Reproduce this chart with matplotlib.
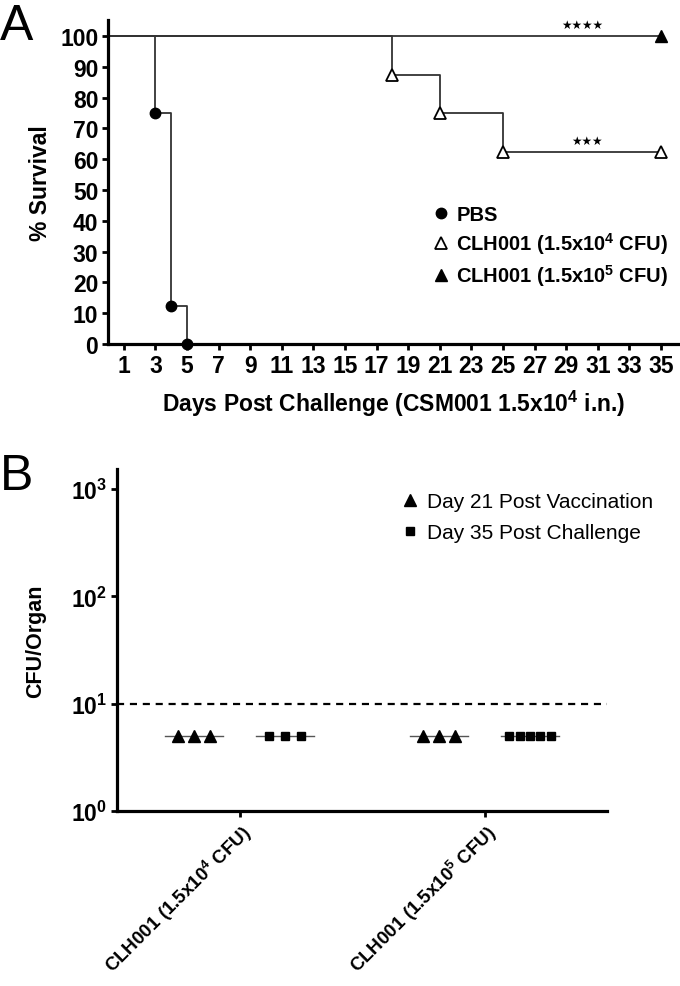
import numpy as np
import matplotlib
matplotlib.use('Agg')
import matplotlib.pyplot as plt
from matplotlib.ticker import FixedLocator, FixedFormatter, NullLocator

plt.rcParams['font.family'] = ['Liberation Sans', 'DejaVu Sans']
plt.rcParams['mathtext.fontset'] = 'custom'
plt.rcParams['mathtext.rm'] = 'Liberation Sans'
plt.rcParams['mathtext.bf'] = 'Liberation Sans:bold'
plt.rcParams['mathtext.it'] = 'Liberation Sans:italic'

# panel A - survival
pbs_days = [0, 3, 4, 5]
pbs_surv = [100, 75, 12.5, 0]
low_days = [0, 18, 21, 25, 35]
low_surv = [100, 87.5, 75, 62.5, 62.5]
high_days = [0, 35]
high_surv = [100, 100]
xticks_a = list(range(1, 36, 2))
yticks_a = list(range(0, 101, 10))

# panel B - CFU/organ
groups = [r'CLH001 (1.5x10$^{\mathbf{4}}$ CFU)', r'CLH001 (1.5x10$^{\mathbf{5}}$ CFU)']
d21_vals = [[5, 5, 5], [5, 5, 5]]
d35_vals = [[5, 5, 5], [5, 5, 5, 5, 5]]
detect_limit = 10
yticks_b = [1, 10, 100, 1000]
yticklabels_b = [r'$\mathbf{10^{0}}$', r'$\mathbf{10^{1}}$', r'$\mathbf{10^{2}}$', r'$\mathbf{10^{3}}$']

fig = plt.figure(figsize=(6.8, 9.87), dpi=100)

line_col = '#333333'
spine_w = 2.3

# ---------- A ----------
ax = fig.add_axes([108/680, 1-345/987, 1-108/680, (345-21)/987])
ax.step(pbs_days, pbs_surv, where='post', color=line_col, lw=1.3)
ax.plot(pbs_days[1:], pbs_surv[1:], 'o', color='black', ms=7.5, ls='none', label='PBS', clip_on=False)
ax.step(low_days, low_surv, where='post', color=line_col, lw=1.3)
ax.plot(low_days[1:], low_surv[1:], '^', mfc='white', mec='black', mew=1.3, ms=8.5, ls='none', clip_on=False,
        label=r'CLH001 (1.5x10$^{\mathbf{4}}$ CFU)')
ax.step(high_days, high_surv, where='post', color=line_col, lw=1.3)
ax.plot(high_days[1:], high_surv[1:], '^', color='black', ms=8.5, ls='none', clip_on=False,
        label=r'CLH001 (1.5x10$^{\mathbf{5}}$ CFU)')

ax.set_xlim(0, 36.2)
ax.set_ylim(0, 105.2)
ax.xaxis.set_major_locator(FixedLocator(xticks_a))
ax.yaxis.set_major_locator(FixedLocator(yticks_a))
for s in ['top', 'right']:
    ax.spines[s].set_visible(False)
for s in ['left', 'bottom']:
    ax.spines[s].set_linewidth(spine_w)
ax.tick_params(width=2, length=4, labelsize=16.5, pad=3)
for lab in ax.get_xticklabels() + ax.get_yticklabels():
    lab.set_fontweight('bold')
ax.set_ylabel('% Survival', fontsize=16.5, fontweight='bold', labelpad=6)
ax.set_xlabel(r'Days Post Challenge (CSM001 1.5x10$^{\mathbf{4}}$ i.n.)', fontsize=16.5, fontweight='bold', labelpad=8)

ax.text(30.0, 101.5, '★★★★', fontsize=8.5, ha='center', va='bottom', family='DejaVu Sans')
ax.text(30.3, 64.0, '★★★', fontsize=8.5, ha='center', va='bottom', family='DejaVu Sans')

leg = ax.legend(loc='upper left', bbox_to_anchor=(0.54, 0.485), frameon=False,
                handlelength=0.6, handletextpad=0.45, labelspacing=0.3,
                prop={'weight': 'bold', 'size': 14.5})

fig.text(0.0, 1-40/987, 'A', fontsize=36, ha='left', va='baseline')

# ---------- B ----------
bx = fig.add_axes([117/680, 1-812/987, (607-117)/680, (812-470)/987])
bx.set_yscale('log')
bx.set_ylim(1, 10**3.186)
bx.set_xlim(-0.5, 1.5)

off = 0.186
for i in range(len(groups)):
    for vals, mk, sz, sign in [(d21_vals[i], '^', 9, -1), (d35_vals[i], 's', 5.8, 1)]:
        n = len(vals)
        step = min(0.067, 0.17 / (n - 1))
        xs = i + sign * off + (np.arange(n) - (n - 1) / 2) * step
        bx.plot([i + sign * off - 0.12, i + sign * off + 0.12], [np.median(vals)] * 2,
                color='#555555', lw=1.0, zorder=2)
        bx.plot(xs, vals, mk, color='black', ms=sz, ls='none', zorder=3)

bx.axhline(detect_limit, color='black', lw=1.6, ls=(0, (3.2, 2.6)), zorder=1)

# legend proxies
bx.plot([], [], '^', color='black', ms=8, ls='none', label='Day 21 Post Vaccination')
bx.plot([], [], 's', color='black', ms=6, ls='none', label='Day 35 Post Challenge')
bx.legend(loc='upper left', bbox_to_anchor=(0.545, 0.988), frameon=False,
          handlelength=0.7, handletextpad=0.45, labelspacing=0.6, prop={'size': 15})

bx.yaxis.set_major_locator(FixedLocator(yticks_b))
bx.yaxis.set_major_formatter(FixedFormatter(yticklabels_b))
bx.yaxis.set_minor_locator(NullLocator())
bx.xaxis.set_major_locator(FixedLocator([0, 1]))
bx.set_xticklabels(groups, rotation=45, ha='right', rotation_mode='anchor', fontsize=13.5, fontweight='bold')
for s in ['top', 'right']:
    bx.spines[s].set_visible(False)
for s in ['left', 'bottom']:
    bx.spines[s].set_linewidth(spine_w)
bx.tick_params(width=2, length=4, pad=3)
bx.tick_params(axis='y', labelsize=16.5)
bx.set_ylabel('CFU/Organ', fontsize=15.5, fontweight='bold', labelpad=18)

fig.text(0.0, 1-490/987, 'B', fontsize=36, ha='left', va='baseline')

fig.savefig('out.png', dpi=100)
